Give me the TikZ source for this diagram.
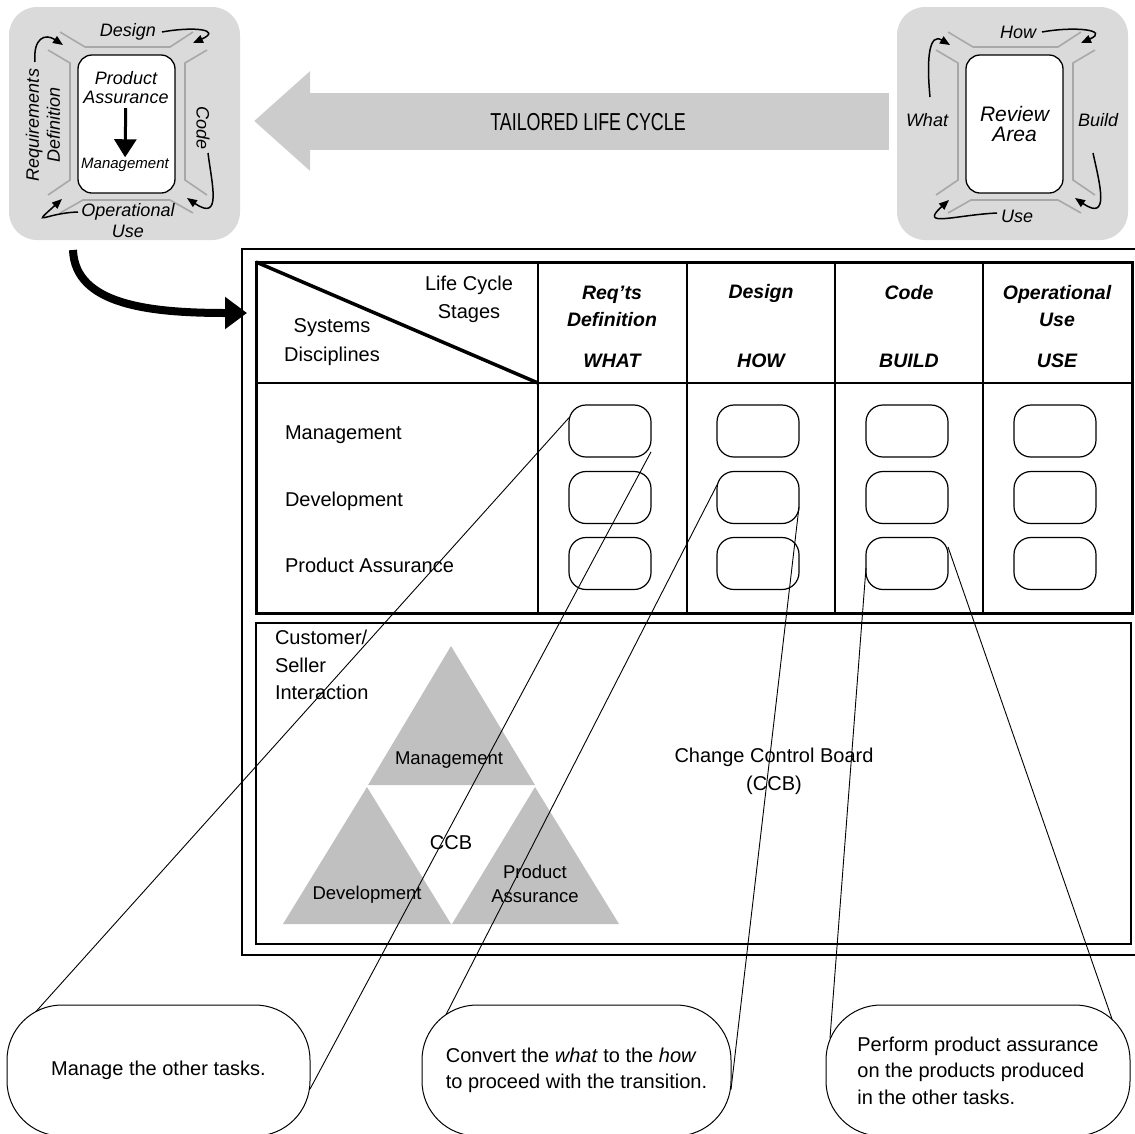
\documentclass[tikz,border=0pt]{standalone}
\usepackage{fontspec}
\setmainfont{Liberation Sans}
\usetikzlibrary{arrows.meta}
\definecolor{panelgray}{HTML}{DADADA}
\definecolor{arrowgray}{HTML}{CCCCCC}
\definecolor{changray}{HTML}{A8A8A8}
\definecolor{trigray}{HTML}{C0C0C0}

\tikzset{
  every node/.style={inner sep=0pt, outer sep=0pt},
  txt/.style={font=\fontsize{20}{28}\selectfont, align=center},
  txtl/.style={font=\fontsize{20}{28}\selectfont, align=left},
  tritxt/.style={font=\fontsize{18.5}{24}\selectfont, align=center},
  hdr/.style={font=\fontsize{19.5}{27}\selectfont\bfseries\itshape, align=center},
  ptxt/.style={font=\fontsize{18}{21}\selectfont\itshape, align=center},
  panel/.style={fill=panelgray, rounded corners=28pt},
  inbox/.style={draw, fill=white, line width=1.3pt, rounded corners=14pt},
  chan/.style={draw=changray, line width=1.6pt},
  cyc/.style={line width=1.5pt, -{Triangle[length=10pt,width=8pt]}},
  cell/.style={draw, line width=1.2pt, rounded corners=17pt,
               minimum width=82pt, minimum height=52pt},
  callout/.style={draw, line width=1pt, rounded corners=55pt,
                  minimum height=131pt, font=\fontsize{20}{26.5}\selectfont, align=left},
  conn/.style={line width=0.9pt},
  bigarrow/.style={arrowgray, line width=57pt, -{Triangle[length=56pt,width=96pt]}},
  channels/.pic={
    \draw[chan] (60,32) -- (85,47) -- (170,47) -- (193,32);
    \draw[chan] (48,50) -- (70,63) -- (70,180) -- (48,195);
    \draw[chan] (207,50) -- (185,63) -- (185,180) -- (207,195);
    \draw[chan] (60,213) -- (83,200) -- (170,200) -- (193,213);
  }
}

\begin{document}
\begin{tikzpicture}[x=1pt,y=-1pt]
\useasboundingbox (0,0) rectangle (1135,1133);

% ---------- stage panels ----------
\node[panel, minimum width=231pt, minimum height=233pt] (lp) at (124.5,123.5) {};
\node[panel, minimum width=231pt, minimum height=233pt] (rp) at (1012.5,123.5) {};
\pic at (0,0) {channels};
\pic at (888,0) {channels};

% left panel: tailored cycle
\node[inbox, minimum width=97pt, minimum height=138pt] (lbox) at (126.5,124) {};
\node[ptxt, font=\fontsize{18}{19}\selectfont\itshape] (pa) at (126,88) {Product\\Assurance};
\node[ptxt, font=\fontsize{15}{18}\selectfont\itshape] (mg) at (125,165) {Management};
\draw[line width=3pt, -{Triangle[length=18pt,width=22pt]}, shorten <=4pt, shorten >=1pt] (pa) -- (mg);
\node[ptxt] (lDesign) at (128,32) {Design};
\node[ptxt, rotate=90] (lReq) at (43,125) {Requirements\\Definition};
\node[ptxt, rotate=-90] (lCode) at (203,128) {Code};
\node[ptxt] (lOp) at (128,221) {Operational\\Use};
\draw[cyc] (35,62) .. controls (33,38) and (45,33) .. (63,45);
\draw[cyc] (162,32) .. controls (195,26) and (222,30) .. (193,43);
\draw[cyc] (208,153) .. controls (212,185) and (222,222) .. (187,198);
\draw[cyc] (78,212) .. controls (45,213) and (30,228) .. (62,199);

% right panel: review cycle
\node[inbox, minimum width=97pt, minimum height=138pt,
      font=\fontsize{21}{20}\selectfont\itshape, align=center] (rbox) at (1014.5,124) {Review\\Area};
\node[ptxt] (rHow) at (1018,32) {How};
\node[ptxt] (rWhat) at (927,120) {What};
\node[ptxt] (rBuild) at (1098,120) {Build};
\node[ptxt] (rUse) at (1017,216) {Use};
\draw[cyc] (930,97) .. controls (926,55) and (930,33) .. (950,45);
\draw[cyc] (1042,32) .. controls (1075,26) and (1110,30) .. (1081,43);
\draw[cyc] (1093,153) .. controls (1100,185) and (1110,222) .. (1075,198);
\draw[cyc] (997,213) .. controls (955,215) and (918,228) .. (949,200);

% tailoring arrow between the panels
\draw[bigarrow, shorten <=8pt, shorten >=14pt] ([yshift=2.5pt]rp.west) -- ([yshift=2.5pt]lp.east);
\node[font=\fontsize{24.5}{28}\selectfont] (tlc) at (588,122) {\scalebox{0.73}[1]{TAILORED LIFE CYCLE}};

% ---------- frame and matrix ----------
\draw[line width=1.5pt] (242,249) rectangle (1140,955);
\coordinate (bendstart) at (73,250);
\coordinate (bendend) at (247,313);
\draw[line width=8pt, -{Triangle[length=22pt,width=31pt]}] (bendstart) .. controls (75,305) and (150,313) .. (bendend);

\draw[line width=1.3pt] (256,383) -- (1132,383);
\foreach \cx in {538,687,835,983} \draw[line width=1.3pt] (\cx,262) -- (\cx,613);
\draw[line width=3.5pt] (256,262) -- (538,383);
\draw[line width=3pt] (256,262) rectangle (1132,613);

\node[txt] (lcs) at (469,299) {Life Cycle\\Stages};
\node[txt, font=\fontsize{20}{29}\selectfont] (sysd) at (332,342) {Systems\\Disciplines};

\node[hdr] (h1) at (612,306.5) {Req’ts\\Definition};
\node[hdr] (h2) at (761,293) {Design};
\node[hdr] (h3) at (909,293) {Code};
\node[hdr] (h4) at (1057,306.5) {Operational\\Use};
\node[hdr] (w1) at (612,361) {WHAT};
\node[hdr] (w2) at (761,361) {HOW};
\node[hdr] (w3) at (909,361) {BUILD};
\node[hdr] (w4) at (1057,361) {USE};

\node[txtl, anchor=base west] (rm) at (285,439) {Management};
\node[txtl, anchor=base west] (rd) at (285,506) {Development};
\node[txtl, anchor=base west] (rpa) at (285,572) {Product Assurance};

\foreach \col/\cx in {1/610,2/758,3/907,4/1055}
  \foreach \row/\cy in {1/431,2/497.5,3/563.5}
    \node[cell] (c\row\col) at (\cx,\cy) {};

% ---------- customer/seller interaction ----------
\draw[line width=1.5pt] (256,623) rectangle (1131,944);
\node[txtl, anchor=north west, font=\fontsize{20}{27.5}\selectfont] (csi) at (275,630) {Customer/\\Seller\\Interaction};

\fill[trigray] (451,646) -- (535,785) -- (368,785) -- cycle;
\fill[trigray] (367,787) -- (451,924) -- (283,924) -- cycle;
\fill[trigray] (535,787) -- (619,924) -- (452,924) -- cycle;
\node[tritxt] (tm) at (449,760) {Management};
\node[tritxt] (tdev) at (367,895) {Development};
\node[tritxt] (tpa) at (535,884) {Product\\Assurance};
\node[txt] (tccb) at (451,843) {CCB};
\node[txt, font=\fontsize{20}{28}\selectfont] (ccb) at (774,771) {Change Control Board\\(CCB)};

% ---------- task callouts ----------
\node[callout, minimum width=303pt] (k1) at (158.5,1070.5) {Manage the other tasks.};
\node[callout, minimum width=309pt] (k2) at (576.5,1070.5)
  {Convert the \textit{what} to the \textit{how}\\to proceed with the transition.};
\node[callout, minimum width=304pt] (k3) at (978,1070.5)
  {Perform product assurance\\on the products produced\\in the other tasks.};

\draw[conn] (c11.162) -- ([xshift=29pt,yshift=-6.5pt]k1.north west);
\draw[conn] (c11.-27) -- (k1.-7);
\draw[conn] (c22.163) -- ([xshift=24pt,yshift=-9.6pt]k2.north west);
\draw[conn] (c22.-13) -- (k2.-7);
\draw[conn] (c33.186) -- ([xshift=4pt,yshift=-33pt]k3.north west);
\draw[conn] (c33.22) -- ([xshift=-18pt,yshift=-14pt]k3.north east);
\end{tikzpicture}
\end{document}
